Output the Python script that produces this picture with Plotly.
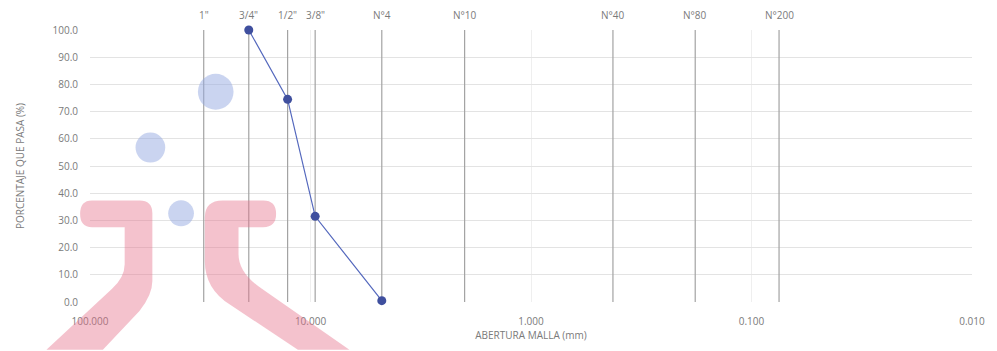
import numpy as np
import plotly.graph_objects as go

# --- data ---
sieve_labels = ['1"', '3/4"', '1/2"', '3/8"', 'N°4', 'N°10', 'N°40', 'N°80', 'N°200']
sieve_sizes = [30.5, 19.05, 12.7, 9.525, 4.75, 2.0, 0.425, 0.18, 0.075]
curve_sizes = [19.05, 12.7, 9.525, 4.75]
curve_pass = [100.0, 74.5, 31.5, 0.5]
x_tickvals = [100, 10, 1, 0.1, 0.01]
x_ticktext = ["100.000", "10.000", "1.000", "0.100", "0.010"]
y_tickvals = [0, 10, 20, 30, 40, 50, 60, 70, 80, 90, 100]
y_ticktext = ["0.0", "10.0", "20.0", "30.0", "40.0", "50.0", "60.0", "70.0", "80.0", "90.0", "100.0"]

W, H = 997, 351
ML, MR, MT, MB = 90, 16, 30, 48
PW, PH = W - ML - MR, H - MT - MB
TXT = "#7a7a7a"
FONT = "Open Sans"

fig = go.Figure()

# vertical sieve lines
for s in sieve_sizes:
    fig.add_trace(go.Scatter(x=[s, s], y=[0, 100], mode="lines",
                             line=dict(color="#a3a3a3", width=1.2),
                             hoverinfo="skip", showlegend=False))

# grading curve
fig.add_trace(go.Scatter(x=curve_sizes, y=curve_pass, mode="lines+markers",
                         line=dict(color="#5468bd", width=1.2),
                         marker=dict(color="#3f4f9e", size=9),
                         cliponaxis=False, showlegend=False))

# sieve labels
for lab, s in zip(sieve_labels, sieve_sizes):
    fig.add_annotation(x=np.log10(s), y=100, xref="x", yref="y", text=lab,
                       showarrow=False, yshift=15,
                       font=dict(size=10, color=TXT, family=FONT))

# watermark (decorative), built in pixel space then converted to paper coords
def px(x, y):
    return (x - ML) / PW, (H - MB - y) / PH

def path(points, close=True):
    parts = []
    for cmd, pts in points:
        coords = " ".join("%.4f,%.4f" % px(*p) for p in pts)
        parts.append(cmd + " " + coords)
    return " ".join(parts) + (" Z" if close else "")

pink = "rgba(228,110,135,0.42)"
left_j = path([
    ("M", [(92, 201)]),
    ("L", [(140, 201)]),
    ("Q", [(153, 201), (153, 214)]),
    ("L", [(153, 282)]),
    ("Q", [(153, 296), (140, 312)]),
    ("L", [(103, 351)]),
    ("L", [(46, 351)]),
    ("L", [(112, 290)]),
    ("Q", [(125, 278), (125, 265)]),
    ("L", [(125, 228)]),
    ("L", [(92, 228)]),
    ("Q", [(80, 228), (80, 214.5)]),
    ("Q", [(80, 201), (92, 201)]),
])
right_c = path([
    ("M", [(265, 201)]),
    ("L", [(224, 201)]),
    ("Q", [(206, 201), (206, 218)]),
    ("L", [(206, 262)]),
    ("Q", [(206, 290), (232, 306)]),
    ("L", [(300, 351)]),
    ("L", [(352, 351)]),
    ("L", [(264, 290)]),
    ("Q", [(240, 274), (240, 255)]),
    ("L", [(240, 228)]),
    ("L", [(265, 228)]),
    ("Q", [(278, 228), (278, 214.5)]),
    ("Q", [(278, 201), (265, 201)]),
])
for p in (left_j, right_c):
    fig.add_shape(type="path", path=p, xref="paper", yref="paper",
                  fillcolor=pink, line=dict(width=0), layer="above")

blue = "rgba(150,170,225,0.5)"
for cx, cy, r in [(217, 92, 18), (151, 148, 15), (182, 214, 13)]:
    x0, y0 = px(cx - r, cy + r)
    x1, y1 = px(cx + r, cy - r)
    fig.add_shape(type="circle", xref="paper", yref="paper",
                  x0=x0, y0=y0, x1=x1, y1=y1,
                  fillcolor=blue, line=dict(width=0), layer="above")

fig.update_xaxes(type="log", range=[2, -2],
                 tickvals=x_tickvals, ticktext=x_ticktext,
                 showgrid=True, gridcolor="#efefef", gridwidth=1,
                 zeroline=False, showline=False, ticks="",
                 ticklabelstandoff=12,
                 tickfont=dict(size=10, color=TXT, family=FONT),
                 title=dict(text="ABERTURA MALLA (mm)", standoff=4,
                            font=dict(size=10, color=TXT, family=FONT)))
fig.update_yaxes(range=[0, 100], tickvals=y_tickvals, ticktext=y_ticktext,
                 showgrid=True, gridcolor="#e3e3e3", gridwidth=1,
                 zeroline=False, showline=False, ticks="",
                 ticklabelstandoff=11,
                 tickfont=dict(size=10, color=TXT, family=FONT),
                 title=dict(text="PORCENTAJE QUE PASA (%)", standoff=26,
                            font=dict(size=10, color=TXT, family=FONT)))

fig.update_layout(width=W, height=H,
                  margin=dict(l=ML, r=MR, t=MT, b=MB, pad=0),
                  paper_bgcolor="white", plot_bgcolor="white",
                  showlegend=False)

fig.write_html("out.html")
